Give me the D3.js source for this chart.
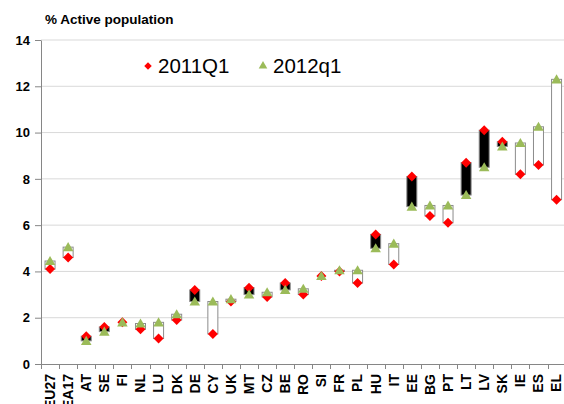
<!DOCTYPE html>
<meta charset="utf-8">
<style>

html, body {
  margin: 0;
  width: 564px;
  height: 404px;
  overflow: hidden;
  background: #fff;
}

svg {
  font-family: "Liberation Sans", Arial, sans-serif;
}

.grid line {
  stroke: #d9d9d9;
  stroke-width: 1px;
}

.axis path, .axis line {
  stroke: #868686;
}

.axis text {
  font-weight: bold;
  font-size: 13px;
  fill: #000;
}

.xaxis text {
  font-size: 14px;
}

</style>
<svg class="chart"></svg>
<script src="https://d3js.org/d3.v7.min.js"></script>
<script>

var countries = ['EU27', 'EA17', 'AT', 'SE', 'FI', 'NL', 'LU', 'DK', 'DE', 'CY', 'UK', 'MT', 'CZ', 'BE',
  'RO', 'SI', 'FR', 'PL', 'HU', 'IT', 'EE', 'BG', 'PT', 'LT', 'LV', 'SK', 'IE', 'ES', 'EL'];

var q2011 = [4.1, 4.6, 1.2, 1.6, 1.8, 1.5, 1.1, 1.9, 3.2, 1.3, 2.7, 3.3, 2.9, 3.5,
  3.0, 3.8, 4.0, 3.5, 5.6, 4.3, 8.1, 6.4, 6.1, 8.7, 10.1, 9.6, 8.2, 8.6, 7.1];

var q2012 = [4.45, 5.05, 1.0, 1.4, 1.8, 1.75, 1.8, 2.15, 2.7, 2.7, 2.8, 3.0, 3.1, 3.2,
  3.25, 3.8, 4.05, 4.05, 5.0, 5.2, 6.8, 6.85, 6.85, 7.3, 8.5, 9.4, 9.55, 10.25, 12.3];

var yTicks = [0, 2, 4, 6, 8, 10, 12, 14];

var width = 564;
var height = 404;
var margin = {left: 41, top: 40};
var plotBottom = 364;
var bandW = 18.09;

var svg = d3.select('svg.chart')
  .attr('width', width)
  .attr('height', height);

var x = d3.scaleBand()
  .domain(countries)
  .range([margin.left, margin.left + countries.length * bandW]);

var y = d3.scaleLinear()
  .domain([0, 14])
  .range([plotBottom, margin.top]);

var data = countries.map(function (c, i) {
  return {name: c, a: q2011[i], b: q2012[i]};
});

// gridlines
svg.append('g')
    .attr('class', 'grid')
  .selectAll('line')
  .data(yTicks.filter(function (d) { return d > 0; }))
  .enter().append('line')
    .attr('x1', margin.left)
    .attr('x2', width)
    .attr('y1', function (d) { return y(d); })
    .attr('y2', function (d) { return y(d); });

// y axis
svg.append('g')
    .attr('class', 'axis')
    .attr('transform', 'translate(' + margin.left + ',0)')
    .call(d3.axisLeft(y).tickValues(yTicks).tickSize(6).tickPadding(5).tickSizeOuter(0));

// x axis, ticks between categories
var xAxis = svg.append('g')
    .attr('class', 'axis xaxis')
    .attr('transform', 'translate(0,' + plotBottom + ')');

xAxis.append('line')
    .attr('x1', margin.left)
    .attr('x2', width)
    .attr('y1', 0.5)
    .attr('y2', 0.5);

xAxis.selectAll('line.tk')
  .data(countries)
  .enter().append('line')
    .attr('class', 'tk')
    .attr('x1', function (d) { return Math.round(x(d)) + 0.5; })
    .attr('x2', function (d) { return Math.round(x(d)) + 0.5; })
    .attr('y1', 0)
    .attr('y2', 5);

xAxis.selectAll('text')
  .data(countries)
  .enter().append('text')
    .attr('transform', function (d) {
      return 'translate(' + (x(d) + x.bandwidth() / 2) + ',10) rotate(-90)';
    })
    .attr('dy', '0.35em')
    .attr('text-anchor', 'end')
    .text(function (d) { return d; });

// floating bars
svg.append('g')
  .selectAll('rect')
  .data(data)
  .enter().append('rect')
    .attr('x', function (d) { return x(d.name) + x.bandwidth() / 2 - 5; })
    .attr('width', 10)
    .attr('y', function (d) { return y(Math.max(d.a, d.b)); })
    .attr('height', function (d) { return Math.abs(y(d.a) - y(d.b)); })
    .attr('fill', function (d) { return d.b < d.a ? '#000' : '#fff'; })
    .attr('stroke', '#8c8c8c')
    .attr('stroke-width', 1);

var diamond = d3.symbol().type(d3.symbolSquare).size(50);
var triangle = d3.symbol().type(d3.symbolTriangle).size(48);

svg.append('g')
  .selectAll('path')
  .data(data)
  .enter().append('path')
    .attr('d', diamond)
    .attr('fill', '#ff0000')
    .attr('transform', function (d) {
      return 'translate(' + (x(d.name) + x.bandwidth() / 2) + ',' + y(d.a) + ') rotate(45)';
    });

svg.append('g')
  .selectAll('path')
  .data(data)
  .enter().append('path')
    .attr('d', triangle)
    .attr('fill', '#9bbb59')
    .attr('transform', function (d) {
      return 'translate(' + (x(d.name) + x.bandwidth() / 2) + ',' + (y(d.b) + 1) + ')';
    });

// title
svg.append('text')
    .attr('x', 45)
    .attr('y', 24)
    .style('font-weight', 'bold')
    .style('font-size', '13.5px')
    .text('% Active population');

// legend
var legend = svg.append('g');

legend.append('path')
    .attr('d', d3.symbol().type(d3.symbolSquare).size(28))
    .attr('fill', '#ff0000')
    .attr('transform', 'translate(148,66) rotate(45)');

legend.append('text')
    .attr('x', 158)
    .attr('y', 73)
    .style('font-size', '20.5px')
    .text('2011Q1');

legend.append('path')
    .attr('d', d3.symbol().type(d3.symbolTriangle).size(32))
    .attr('fill', '#9bbb59')
    .attr('transform', 'translate(263,66)');

legend.append('text')
    .attr('x', 273)
    .attr('y', 73)
    .style('font-size', '20.5px')
    .text('2012q1');

</script>
